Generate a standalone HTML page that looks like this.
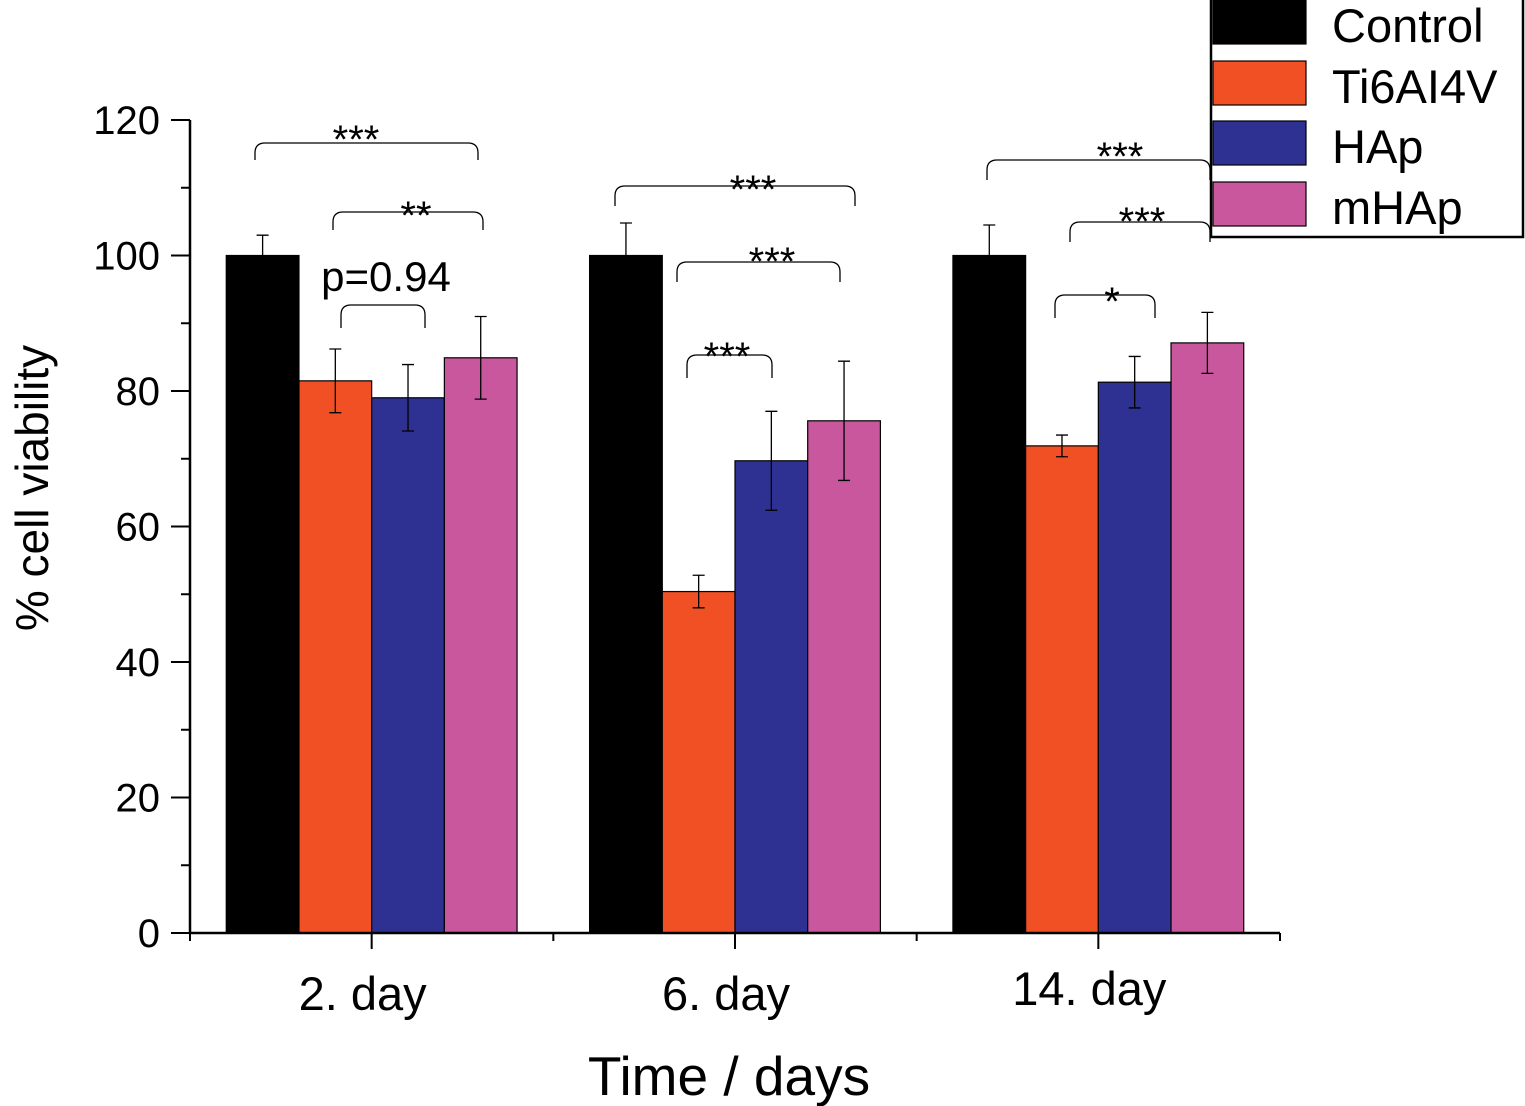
<!DOCTYPE html>
<html><head><meta charset="utf-8"><style>
body{margin:0;background:#fff;}
svg{display:block;font-family:"Liberation Sans",Arial,sans-serif;}
</style></head><body>
<svg id="chart" width="1525" height="1106" viewBox="0 0 1525 1106"></svg>
<script>
const categories = ["2. day","6. day","14. day"];
const seriesNames = ["Control","Ti6AI4V","HAp","mHAp"];
const controlValues = [100,100,100];
const ti6al4vValues = [81.5,50.4,71.9];
const hapValues = [79,69.7,81.3];
const mhapValues = [84.9,75.6,87.1];
const controlErr = [3,4.8,4.5];
const ti6al4vErr = [4.7,2.4,1.6];
const hapErr = [4.9,7.3,3.8];
const mhapErr = [6.1,8.8,4.5];
const yTicks = [0,20,40,60,80,100,120];
const colors = ["#000000","#F05023","#2E3192","#C9579E"];

const NS="http://www.w3.org/2000/svg";
const svg=document.getElementById('chart');
const x0=190,x1=1280,yBase=933,yTop=120,yMax=120;
const y=v=>yBase-(v/yMax)*(yBase-yTop);
const groupW=(x1-x0)/categories.length;
const gc=i=>x0+groupW*(i+0.5);
const barW=72.7;
function el(t,a,p){const e=document.createElementNS(NS,t);for(const k in a)e.setAttribute(k,a[k]);(p||svg).appendChild(e);return e;}

const series=[controlValues,ti6al4vValues,hapValues,mhapValues];
const errs=[controlErr,ti6al4vErr,hapErr,mhapErr];
const labelDy=[1010,1010,1005];
categories.forEach((c,i)=>{
  series.forEach((vals,s)=>{
    const bx=gc(i)-2*barW+s*barW;
    const r=el('rect',{x:bx,y:y(vals[i]),width:barW,height:yBase-y(vals[i]),fill:colors[s],stroke:'#000','stroke-width':1.2});
    
    
    const cx=bx+barW/2,e=errs[s][i],hi=y(vals[i]+e),lo=y(vals[i]-e);
    const g=el('path',{d:`M${cx},${hi}V${lo}M${cx-6},${hi}H${cx+6}M${cx-6},${lo}H${cx+6}`,stroke:'#000','stroke-width':1.3,fill:'none'});
    
    
  });
  const t=el('text',{x:gc(i)-9,y:labelDy[i],'font-size':47,'text-anchor':'middle'});
  t.textContent=c;
  
  
});

// axes
el('path',{d:`M${x0},${yTop}V${yBase}H${x1}`,stroke:'#000','stroke-width':2.5,fill:'none'});
for(let v=0;v<=yMax;v+=10){
  const major=v%20===0;
  el('line',{x1:major?171:181,x2:x0,y1:y(v),y2:y(v),stroke:'#000','stroke-width':2});
}
yTicks.forEach(v=>{
  const t=el('text',{x:160,y:y(v)+14,'font-size':40,'text-anchor':'end'});
  t.textContent=v;
  
  
});
for(let k=0;k<=categories.length*2;k++){
  const xx=x0+groupW/2*k,major=k%2===1;
  el('line',{x1:xx,x2:xx,y1:yBase,y2:major?949:941,stroke:'#000','stroke-width':2});
}
let t=el('text',{x:0,y:0,'font-size':46,'text-anchor':'middle',transform:'translate(48,488) rotate(-90)'});
t.textContent='% cell viability';

t=el('text',{x:729,y:1095,'font-size':55,'text-anchor':'middle'});
t.textContent='Time / days';


// significance brackets
const brackets=[[255,478,143,160,'***',356,138],[333,483,212,230,'**',416,214],[341,425,305,328,'',0,0],
[615,855,186,206,'***',753,188],[677,840,262,282,'***',772,260],[687,772,355,378,'***',727,355],
[987,1210,160,180,'***',1120,155],[1070,1210,222,242,'***',1142,220],[1055,1155,295,318,'*',1112,300]];
brackets.forEach(b=>{
  const [a,c,top,bot,lab,lx,ly]=b;
  el('path',{d:`M${a},${bot}V${top+10}Q${a},${top} ${a+10},${top}H${c-10}Q${c},${top} ${c},${top+10}V${bot}`,stroke:'#000','stroke-width':1.3,fill:'none'});
  if(lab){const tt=el('text',{x:lx,y:ly+15,'font-size':40,'text-anchor':'middle'});tt.textContent=lab;
  }
});
t=el('text',{x:386,y:291,'font-size':42,'text-anchor':'middle'});
t.textContent='p=0.94';


// legend
const lg=el('g',{});

el('rect',{x:1211,y:-2,width:312,height:239,fill:'#fff',stroke:'#000','stroke-width':2.5},lg);
const rowY=[0,61,121,182];
seriesNames.forEach((n,s)=>{
  const r=el('rect',{x:1213,y:rowY[s],width:93,height:44,fill:colors[s],stroke:'#000','stroke-width':1.2},lg);
  
  const tt=el('text',{x:1332,y:rowY[s]+42,'font-size':47},lg);
  tt.textContent=n;
  
});
</script>
</body></html>
